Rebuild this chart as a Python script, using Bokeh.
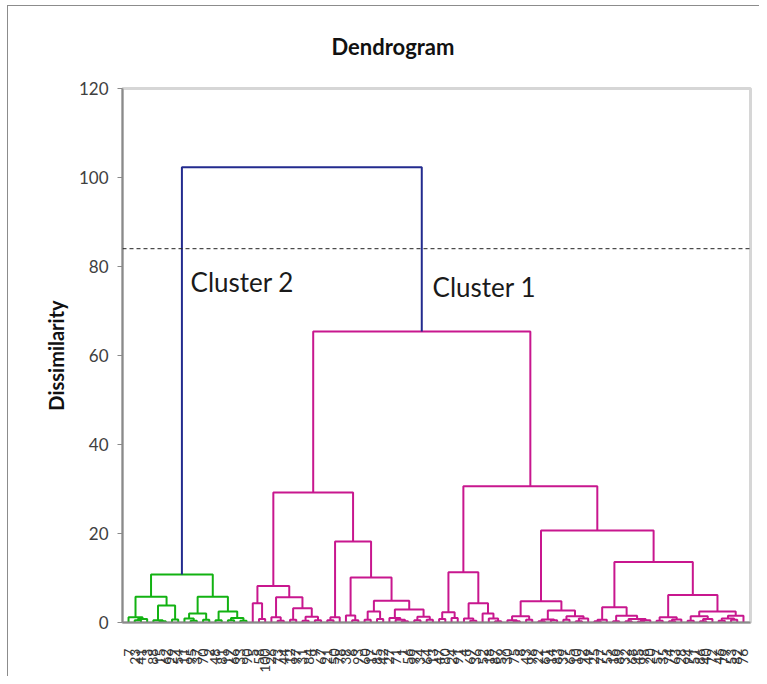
import math
from bokeh.plotting import figure
from bokeh.models import Range1d, FixedTicker, Span, Label, ColumnDataSource
from bokeh.embed import file_html
from bokeh.resources import INLINE

# ---- data -------------------------------------------------------------
# leaf labels in dendrogram order (position 0..99)
leaf_labels = [
    7, 23, 41, 3, 88, 15, 62, 29, 54, 11, 95, 37, 70, 2, 48, 81, 19, 66, 33, 90,
    5, 58, 100, 26, 73, 44, 12, 97, 31, 84, 9, 67,
    21, 50, 78, 38, 6, 93, 60, 17, 85, 42, 27, 71, 1, 56, 99, 34, 64, 13,
    47, 80, 24, 91, 4, 69, 36, 52, 18, 87, 59,
    30, 75, 8, 43, 96, 22, 61, 14, 83, 39, 65, 10, 92, 49,
    25, 77, 55, 16, 89, 32, 68, 45, 98, 20, 57, 35, 74, 63, 28, 94, 51, 86, 40, 72, 46, 79, 53, 82, 76,
]

# nodes: [dissimilarity, left, right]; integers are leaf positions
green_tree = [10.8,
    [5.8,
        [1.2, 0, [0.8, [0.5, 1, 2], 3]],
        [3.8, [0.5, 4, [0.3, 5, 6]], [0.7, 7, 8]]],
    [5.8,
        [2.0, [0.9, 9, [0.4, 10, 11]], [0.6, 12, 13]],
        [2.5, [0.5, 14, 15], [1.0, [0.5, 16, 17], [0.4, 18, 19]]]]]

pink_left_tree = [29.2,
    [8.2,
        [4.3, 20, [0.8, 21, 22]],
        [5.7,
            [1.2, 23, [0.4, 24, 25]],
            [3.2, [0.6, 26, 27], [1.3, [0.4, 28, 29], [0.5, 30, 31]]]]],
    [18.2,
        [1.2, [0.5, 32, 33], 34],
        [10.1,
            [1.6, 35, [0.5, 36, 37]],
            [4.9,
                [2.5, [0.6, 38, 39], [0.8, 40, 41]],
                [2.9, [1.0, 42, [0.6, 43, [0.3, 44, 45]]],
                      [1.3, [0.5, 46, 47], [0.6, 48, 49]]]]]]]

pink_right_tree = [30.6,
    [11.3,
        [2.3, [0.8, 50, 51], [1.0, 52, 53]],
        [4.3, [0.9, 54, [0.4, 55, 56]], [2.0, 57, [0.9, 58, [0.3, 59, 60]]]]],
    [20.7,
        [4.8,
            [1.4, [0.5, 61, [0.3, 62, 63]], [0.6, 64, 65]],
            [2.7, [0.7, [0.3, 66, 67], [0.5, 68, 69]],
                  [1.4, [0.6, 70, 71], [0.9, [0.3, 72, 73], 74]]]],
        [13.6,
            [3.4, [0.6, [0.3, 75, 76], 77],
                  [1.5, [0.3, 78, 79], [0.8, [0.3, 80, 81], [0.5, [0.2, 82, 83], 84]]]],
            [6.2,
                [1.2, [0.4, 85, 86], [0.7, [0.3, 87, 88], 89]],
                [2.5, [1.4, [0.4, 90, 91], [0.8, [0.3, 92, 93], 94]],
                      [1.5, [0.9, [0.4, 95, 96], [0.6, 97, 98]], 99]]]]]]

pink_height = 65.4
root_height = 102.3
cut_level = 84.0
y_ticks = [0, 20, 40, 60, 80, 100, 120]

GREEN = "#12B212"
PINK = "#C8178E"
BLUE = "#232B8E"

# ---- build link segments ----------------------------------------------
seg_xs, seg_ys, seg_col = [], [], []

def add_link(x1, h1, x2, h2, h, col):
    seg_xs.append([x1, x1, x2, x2])
    seg_ys.append([h1, h, h, h2])
    seg_col.append(col)

def walk(node, col):
    if isinstance(node, int):
        return float(node), 0.0
    h, a, b = node
    xa, ha = walk(a, col)
    xb, hb = walk(b, col)
    add_link(xa, ha, xb, hb, h, col)
    return (xa + xb) / 2.0, h

gx, gh = walk(green_tree, GREEN)
plx, plh = walk(pink_left_tree, PINK)
prx, prh = walk(pink_right_tree, PINK)
add_link(plx, plh, prx, prh, pink_height, PINK)
px = (plx + prx) / 2.0
add_link(gx, gh, px, pink_height, root_height, BLUE)

src = ColumnDataSource(dict(xs=seg_xs, ys=seg_ys, color=seg_col))

# ---- figure -----------------------------------------------------------
chart_border_css = (
    ":host::after { content: ''; position: absolute; left: 7px; top: 5px; "
    "width: 752px; height: 671px; border-left: 1.5px solid #8c8c8c; "
    "border-top: 1.5px solid #8c8c8c; pointer-events: none; box-sizing: border-box; }"
)

p = figure(width=759, height=676, output_backend="svg", toolbar_location=None,
           x_range=Range1d(-0.97, 100.13), y_range=Range1d(0, 120),
           min_border_left=122, min_border_right=9, min_border_top=88,
           min_border_bottom=54, stylesheets=[chart_border_css])
p.title.text = "Dendrogram"
p.title.align = "left"
p.title.offset = 209
p.title.standoff = 58
p.title.text_font = "Lato"
p.title.text_font_size = "22px"
p.title.text_font_style = "bold"
p.title.text_color = "#111111"

p.xgrid.visible = False
p.ygrid.visible = False
p.outline_line_color = "#d6d6d6"
p.outline_line_width = 3

p.multi_line(xs="xs", ys="ys", line_color="color", line_width=2, source=src)

p.add_layout(Span(location=cut_level, dimension="width", line_color="#222222",
                  line_width=1, line_dash="4 3"))

p.add_layout(Label(x=9.98, y=76.6, text="Cluster 2", text_font="Lato",
                   text_font_size="26px", text_baseline="middle",
                   text_color="#1a1a1a"))
p.add_layout(Label(x=48.95, y=75.5, text="Cluster 1", text_font="Lato",
                   text_font_size="26px", text_baseline="middle",
                   text_color="#1a1a1a"))

# y axis
p.yaxis.ticker = FixedTicker(ticks=y_ticks)
p.yaxis.axis_label = "Dissimilarity"
p.yaxis.axis_label_text_font = "Lato"
p.yaxis.axis_label_text_font_style = "bold"
p.yaxis.axis_label_text_font_size = "20px"
p.yaxis.axis_label_text_color = "#111111"
p.yaxis.axis_label_standoff = 8
p.yaxis.major_label_text_font = "Lato"
p.yaxis.major_label_text_font_size = "17px"
p.yaxis.major_label_text_color = "#404040"
p.yaxis.major_tick_out = 5
p.yaxis.major_tick_in = 0
p.yaxis.minor_tick_line_color = None
p.yaxis.major_tick_line_color = "#8a8a8a"
p.yaxis.axis_line_color = "#8a8a8a"
p.yaxis.axis_line_width = 2
p.yaxis.major_label_standoff = 9

# x axis (leaf labels)
positions = list(range(len(leaf_labels)))
p.xaxis.ticker = FixedTicker(ticks=positions)
p.xaxis.major_label_overrides = {i: str(v) for i, v in zip(positions, leaf_labels)}
p.xaxis.major_label_orientation = math.pi / 2
p.xaxis.major_label_text_font = "Lato"
p.xaxis.major_label_text_font_size = "14px"
p.xaxis.major_label_text_color = "#333333"
p.xaxis.major_label_standoff = 26
p.xaxis.major_tick_out = 0
p.xaxis.major_tick_in = 0
p.xaxis.major_tick_line_color = None
p.xaxis.minor_tick_line_color = None
p.xaxis.axis_line_color = "#8a8a8a"
p.xaxis.axis_line_width = 2

open("out.html", "w").write(file_html(p, INLINE))
